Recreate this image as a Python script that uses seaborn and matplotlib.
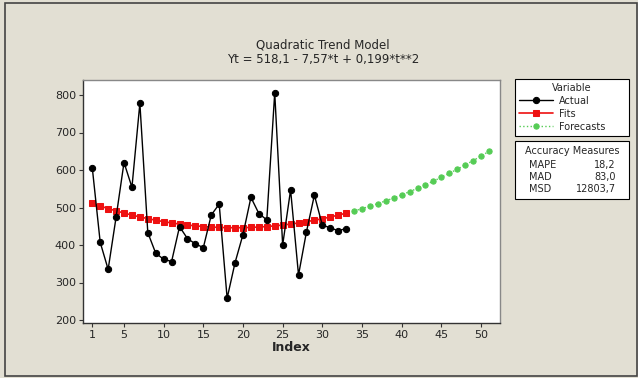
import matplotlib
matplotlib.use("Agg")
import matplotlib.pyplot as plt
import matplotlib.patches as mpatches
import seaborn as sns
import pandas as pd

# ---- data ----
actual_t = list(range(1, 34))
actual_y = [606, 407, 335, 474, 620, 554, 778, 433, 378, 362, 356, 449, 417, 403, 393,
            480, 509, 258, 353, 428, 527, 484, 467, 806, 400, 547, 320, 435, 533, 453,
            446, 438, 444]
fits_t = list(range(1, 34))
fits_y = [510.7, 503.8, 497.2, 491.0, 485.2, 479.8, 474.9, 470.3, 466.1, 462.3, 458.9,
          455.9, 453.3, 451.1, 449.3, 447.9, 446.9, 446.3, 446.1, 446.3, 446.9, 447.9,
          449.3, 451.0, 453.2, 455.8, 458.8, 462.2, 465.9, 470.1, 474.7, 479.6, 485.0]
fc_t = list(range(34, 52))
fc_y = [490.8, 496.9, 503.5, 510.4, 517.8, 525.5, 533.7, 542.2, 551.2, 560.5, 570.3,
        580.4, 591.0, 601.9, 613.2, 625.0, 637.1, 649.6]
x_ticks = [1, 5, 10, 15, 20, 25, 30, 35, 40, 45, 50]
y_ticks = [200, 300, 400, 500, 600, 700, 800]
title_lines = ["Quadratic Trend Model", "Yt = 518,1 - 7,57*t + 0,199*t**2"]
accuracy_names = ["MAPE", "MAD", "MSD"]
accuracy_vals = ["18,2", "83,0", "12803,7"]

sns.set_theme(style="white")
plt.rcParams['font.family'] = ['DejaVu Sans']

W, H = 638, 378
bg = '#e2dfd3'
fig = plt.figure(figsize=(W / 100, H / 100), dpi=100, facecolor=bg)

def fx(px):
    return px / W

def fy(py):
    return 1 - py / H

ax = fig.add_axes([fx(83), fy(323), fx(500) - fx(83), fy(80) - fy(323)])
ax.set_facecolor('white')

df_a = pd.DataFrame({'t': actual_t, 'v': actual_y})
df_f = pd.DataFrame({'t': fits_t, 'v': fits_y})
df_c = pd.DataFrame({'t': fc_t, 'v': fc_y})

sns.lineplot(data=df_a, x='t', y='v', ax=ax, color='black', lw=1.0, marker='o',
             markersize=4.5, markeredgecolor='black', label='Actual', zorder=4)
sns.lineplot(data=df_f, x='t', y='v', ax=ax, color='#ee1111', lw=1.2, marker='s',
             markersize=4, markeredgecolor='#ee1111', label='Fits', zorder=3)
sns.lineplot(data=df_c, x='t', y='v', ax=ax, color='#55cc55', lw=1.0, ls=':', marker='o',
             markersize=3.8, markeredgecolor='#55cc55', label='Forecasts', zorder=3)

handles, labels = ax.get_legend_handles_labels()
ax.get_legend().remove()

ax.set_xlim(-0.17, 52.4)
ax.set_ylim(192, 840)
ax.set_xticks(x_ticks)
ax.set_yticks(y_ticks)
ax.tick_params(axis='both', which='both', direction='out', length=3, width=0.8,
               color='#333333', labelsize=8, pad=2, bottom=True, left=True)
ax.set_xlabel('Index', fontsize=9, fontweight='bold', labelpad=1)
ax.set_ylabel('')
for s in ['left', 'bottom']:
    ax.spines[s].set_color('#333333')
    ax.spines[s].set_linewidth(1.0)
for s in ['top', 'right']:
    ax.spines[s].set_color('#888888')
    ax.spines[s].set_linewidth(1.0)

# title
fig.text(fx(323), fy(45), title_lines[0], ha='center', va='center', fontsize=8.5)
fig.text(fx(323), fy(60), title_lines[1], ha='center', va='center', fontsize=8.5)

# figure border
fig.add_artist(mpatches.Rectangle((fx(5), fy(376)), fx(637) - fx(5), fy(3) - fy(376),
                                  transform=fig.transFigure, fill=False,
                                  edgecolor='#444444', lw=1.2))

# legend
leg = fig.legend(handles, labels, loc='upper left',
                 bbox_to_anchor=(fx(515), fy(135), fx(629) - fx(515), fy(79) - fy(135)),
                 mode='expand', title='Variable', fontsize=7, title_fontsize=7,
                 frameon=True, fancybox=False, edgecolor='black', facecolor='white',
                 framealpha=1, borderpad=0.4, labelspacing=0.3, handlelength=3.5,
                 handletextpad=0.6, borderaxespad=0)
leg.get_frame().set_linewidth(0.8)

# accuracy box
fig.add_artist(mpatches.Rectangle((fx(515), fy(199)), fx(629) - fx(515), fy(141) - fy(199),
                                  transform=fig.transFigure, facecolor='white',
                                  edgecolor='black', lw=0.8))
fig.text(fx(572), fy(151), 'Accuracy Measures', ha='center', va='center', fontsize=7)
for i, (n, v) in enumerate(zip(accuracy_names, accuracy_vals)):
    yy = fy(165 + 12 * i)
    fig.text(fx(529), yy, n, ha='left', va='center', fontsize=7)
    fig.text(fx(616), yy, v, ha='right', va='center', fontsize=7)

fig.savefig('out.png', dpi=100, facecolor=bg)
